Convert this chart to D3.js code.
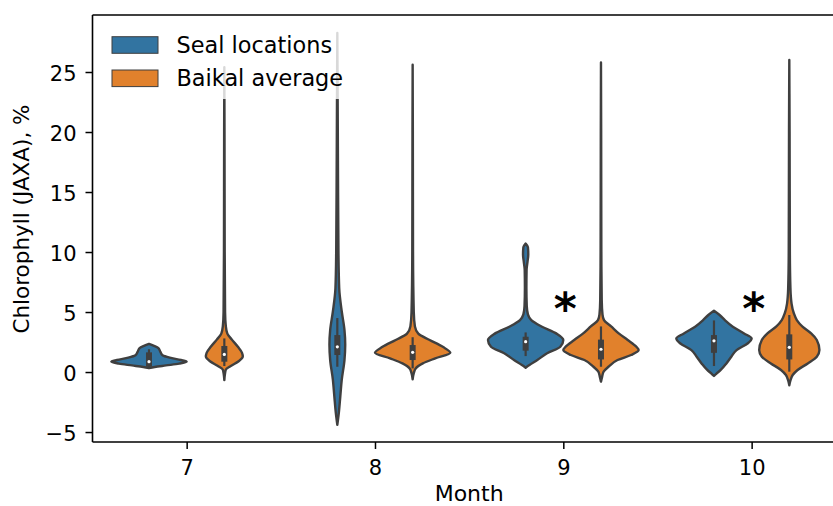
<!DOCTYPE html>
<html>
<head>
<meta charset="utf-8">
<script src="https://cdn.jsdelivr.net/npm/d3@7"></script>
<style>
  body { margin: 0; background: #fff; }
  svg { display: block; font-family: "DejaVu Sans", sans-serif; }
</style>
</head>
<body>
<svg width="833" height="506"></svg>
<script>
// chart data
const months = [7, 8, 9, 10];
const groups = ["Seal locations", "Baikal average"];
const yTicks = [-5, 0, 5, 10, 15, 20, 25];

// violin outlines: [value, relative half width], top to bottom
const sealProfiles = [
  [[2.35, 0], [2.2, 0.12], [2.0, 0.25], [1.7, 0.3], [1.4, 0.36], [1.2, 0.55], [1.0, 0.85], [0.86, 1.0], [0.7, 0.8], [0.55, 0.45], [0.42, 0.15], [0.32, 0]],
  [[28.25, 0], [22, 0.01], [15, 0.02], [10, 0.03], [7, 0.05], [5, 0.12], [3.5, 0.19], [2.3, 0.21], [1, 0.19], [-0.6, 0.12], [-2, 0.08], [-3.4, 0.04], [-4.4, 0]],
  [[10.7, 0], [10.4, 0.06], [9.8, 0.07], [9.2, 0.05], [8.5, 0.025], [7, 0.02], [5.5, 0.03], [4.8, 0.06], [4.33, 0.15], [3.8, 0.42], [3.2, 0.82], [2.67, 1.0], [2.1, 0.92], [1.56, 0.57], [1.0, 0.31], [0.58, 0.1], [0.36, 0]],
  [[5.1, 0], [4.75, 0.15], [4.33, 0.29], [3.78, 0.5], [3.22, 0.8], [2.8, 1.0], [2.4, 0.9], [1.83, 0.6], [1.28, 0.46], [0.72, 0.33], [0.17, 0.18], [-0.15, 0.06], [-0.33, 0]]
];
const baikalProfiles = [
  [[25.4, 0], [20, 0.005], [10, 0.01], [5, 0.02], [3.8, 0.04], [3.2, 0.08], [2.7, 0.2], [2.1, 0.36], [1.6, 0.47], [1.3, 0.49], [0.9, 0.38], [0.5, 0.17], [0.2, 0.04], [-0.2, 0.015], [-0.67, 0]],
  [[25.6, 0], [20, 0.005], [10, 0.01], [5, 0.03], [3.8, 0.06], [3.2, 0.15], [2.67, 0.45], [2.1, 0.8], [1.6, 1.0], [1.14, 0.6], [0.72, 0.27], [0.3, 0.08], [-0.1, 0.03], [-0.6, 0]],
  [[25.8, 0], [20, 0.005], [10, 0.01], [6, 0.02], [4.8, 0.04], [4.33, 0.08], [3.8, 0.27], [3.2, 0.48], [2.67, 0.71], [2.1, 0.94], [1.83, 1.0], [1.42, 0.8], [1.0, 0.44], [0.44, 0.2], [0.03, 0.07], [-0.4, 0.03], [-0.8, 0]],
  [[26.0, 0], [20, 0.008], [10, 0.015], [7, 0.03], [5.7, 0.06], [4.9, 0.12], [4.33, 0.2], [3.78, 0.35], [3.22, 0.58], [2.67, 0.73], [1.83, 0.8], [1.28, 0.73], [0.72, 0.49], [0.17, 0.22], [-0.25, 0.09], [-0.7, 0.03], [-1.1, 0]]
];
// inner box: [low whisker, q1, median, q3, high whisker]
const sealBoxes = [
  [0.36, 0.44, 0.86, 1.64, 1.9],
  [0.44, 1.42, 2.1, 3.08, 4.5],
  [1.33, 1.78, 2.53, 2.94, 3.3],
  [0.5, 1.6, 2.6, 3.08, 4.3]
];
const baikalBoxes = [
  [0.5, 0.86, 1.47, 2.17, 2.8],
  [0.3, 1.0, 1.64, 2.25, 2.9],
  [0.44, 1.05, 1.9, 2.7, 3.8],
  [0.03, 1.05, 2.06, 3.14, 4.75]
];
const starMonths = [9, 10];
const starValue = 6;

const colors = ["#3274a1", "#e1812c"];
const edge = "#3f3f3f";

const svg = d3.select("svg");
const x = d3.scaleLinear().domain([6.5, 10.5]).range([92.5, 845.8]);
const y = d3.scaleLinear().domain([-5.83, 29.75]).range([442, 15]);
const dodge = d3.scaleBand().domain(groups).range([-0.4, 0.4]);
const halfW = x(0.2) - x(0);

const profiles = [sealProfiles, baikalProfiles];
const boxes = [sealBoxes, baikalBoxes];

let violins = [];
groups.forEach((g, gi) => {
  months.forEach((m, mi) => {
    violins.push({
      cx: x(m + dodge(g) + dodge.bandwidth() / 2),
      color: colors[gi],
      profile: profiles[gi][mi],
      box: boxes[gi][mi]
    });
  });
});

let plot = svg.append("g");
violins.forEach(v => {
  let area = d3.area()
    .curve(d3.curveMonotoneY)
    .y(d => y(d[0]))
    .x0(d => v.cx - d[1] * halfW)
    .x1(d => v.cx + d[1] * halfW);
  plot.append("path")
    .attr("d", area(v.profile))
    .attr("fill", v.color)
    .attr("stroke", edge)
    .attr("stroke-width", 2.4)
    .attr("stroke-linejoin", "round");
  // inner box
  plot.append("line")
    .attr("x1", v.cx).attr("x2", v.cx)
    .attr("y1", y(v.box[0])).attr("y2", y(v.box[4]))
    .attr("stroke", edge).attr("stroke-width", 2.2);
  plot.append("rect")
    .attr("x", v.cx - 3).attr("width", 6)
    .attr("y", y(v.box[3])).attr("height", y(v.box[1]) - y(v.box[3]))
    .attr("fill", edge);
  plot.append("circle")
    .attr("cx", v.cx).attr("cy", y(v.box[2]))
    .attr("r", 1.6).attr("fill", "#fff");
});

// significance marks
svg.selectAll(".star")
  .data(starMonths)
  .enter()
  .append("text")
  .attr("class", "star")
  .attr("x", d => x(d) + 2)
  .attr("y", y(starValue) + 24)
  .attr("text-anchor", "middle")
  .attr("font-size", 44)
  .attr("font-weight", "bold")
  .attr("fill", "#000")
  .text("*");

// axes
let yAxis = d3.axisLeft(y).tickValues(yTicks).tickSize(7).tickPadding(9);
let gy = svg.append("g").attr("transform", "translate(92.5,0)").call(yAxis);
let xAxis = d3.axisBottom(x).tickValues(months).tickFormat(d3.format("d")).tickSize(7).tickPadding(11.5);
let gx = svg.append("g").attr("transform", "translate(0,442)").call(xAxis);
[gx, gy].forEach(g => {
  g.select(".domain").remove();
  g.selectAll(".tick line").attr("stroke", "#000").attr("stroke-width", 1.5);
  g.selectAll(".tick text").attr("font-size", 21).attr("fill", "#000")
    .attr("font-family", "DejaVu Sans, sans-serif");
});
gy.selectAll(".tick text").attr("dy", "0.4em");

// spines
svg.append("line").attr("x1", 92.5).attr("x2", 92.5).attr("y1", 15).attr("y2", 442)
  .attr("stroke", "#000").attr("stroke-width", 1.6);
svg.append("line").attr("x1", 92.5).attr("x2", 845.8).attr("y1", 442).attr("y2", 442)
  .attr("stroke", "#000").attr("stroke-width", 1.6);
svg.append("line").attr("x1", 92.5).attr("x2", 845.8).attr("y1", 15).attr("y2", 15)
  .attr("stroke", "#000").attr("stroke-width", 1.6);

svg.append("text")
  .attr("x", x(8.5)).attr("y", 500.5)
  .attr("text-anchor", "middle")
  .attr("font-size", 22)
  .text("Month");
svg.append("text")
  .attr("transform", "translate(28.5,219) rotate(-90)")
  .attr("text-anchor", "middle")
  .attr("font-size", 21.5)
  .text("Chlorophyll (JAXA), %");

// legend
let legend = svg.append("g");
legend.append("rect")
  .attr("x", 101).attr("y", 24).attr("width", 252).attr("height", 75)
  .attr("fill", "#fff").attr("fill-opacity", 0.8);
groups.forEach((g, i) => {
  legend.append("rect")
    .attr("x", 112).attr("y", 36.7 + i * 33.3)
    .attr("width", 46).attr("height", 16.6)
    .attr("fill", colors[i]).attr("stroke", edge).attr("stroke-width", 1);
  legend.append("text")
    .attr("x", 176.5).attr("y", 52.8 + i * 33.3)
    .attr("font-size", 22.4)
    .attr("fill", "#000")
    .text(g);
});
</script>
</body>
</html>
